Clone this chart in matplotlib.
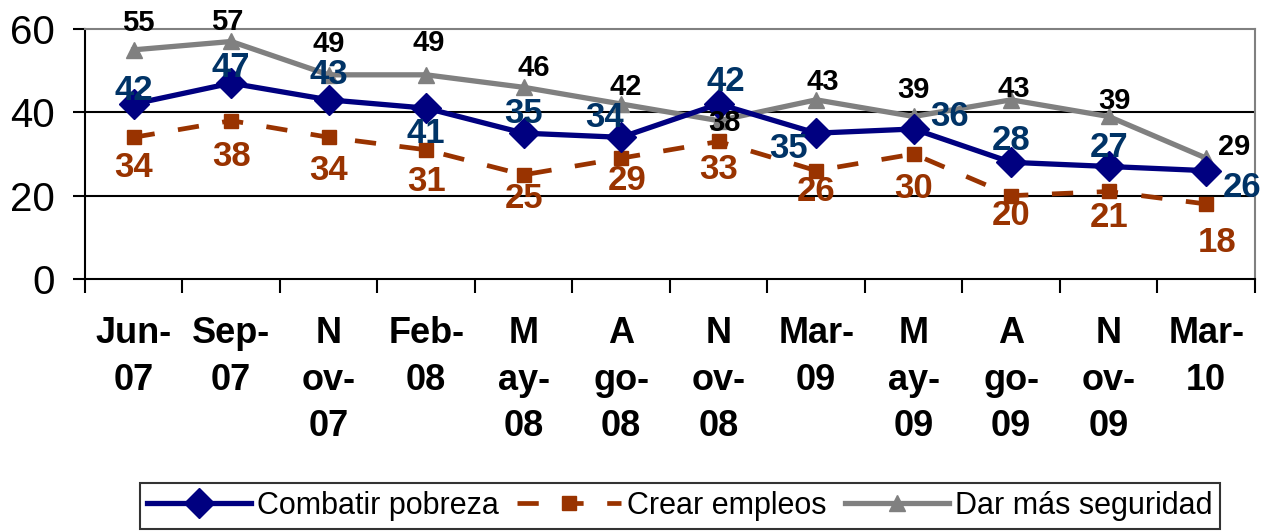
import matplotlib
matplotlib.use('Agg')
import matplotlib.pyplot as plt
import numpy as np

# datos
meses = ['Jun-\n07', 'Sep-\n07', 'N\nov-\n07', 'Feb-\n08', 'M\nay-\n08', 'A\ngo-\n08',
         'N\nov-\n08', 'Mar-\n09', 'M\nay-\n09', 'A\ngo-\n09', 'N\nov-\n09', 'Mar-\n10']
pobreza = [42, 47, 43, 41, 35, 34, 42, 35, 36, 28, 27, 26]
empleos = [34, 38, 34, 31, 25, 29, 33, 26, 30, 20, 21, 18]
seguridad = [55, 57, 49, 49, 46, 42, 38, 43, 39, 43, 39, 29]

# desplazamiento de etiquetas (puntos)
off_pob = [(0, 10), (0, 11), (0, 18), (0, -18), (0, 14), (-12, 14), (5, 16), (-20, -11),
           (26, 9), (0, 16), (0, 14), (26, -12)]
off_emp = [(0, -22), (0, -26), (0, -24), (0, -23), (0, -17), (4, -16), (0, -20), (0, -15),
           (0, -25), (0, -14), (0, -19), (8, -28)]
off_seg = [(3, 19), (-3, 14), (0, 22), (2, 23), (7, 14), (3, 12), (4, -2), (5, 13),
           (0, 19), (2, 8), (4, 11), (20, 8)]

plt.rcParams['font.family'] = ['Liberation Sans', 'DejaVu Sans']

fig = plt.figure(figsize=(12.72, 5.31), dpi=100)
ax = fig.add_axes([0.0668, 0.4746, 0.9198, 0.4708])

x = np.arange(len(meses))
l1, = ax.plot(x, pobreza, color='#000080', lw=3.8, marker='D', ms=15, zorder=4,
              label='Combatir pobreza')
l2, = ax.plot(x, empleos, color='#993300', lw=3.4, ls=(0, (4.5, 5)), marker='s', ms=10,
              zorder=3, label='Crear empleos')
l3, = ax.plot(x, seguridad, color='#808080', lw=3.8, marker='^', ms=12, zorder=2,
              label='Dar más seguridad')

for i in range(len(x)):
    ax.annotate(str(pobreza[i]), (x[i], pobreza[i]), xytext=off_pob[i], textcoords='offset points',
                ha='center', va='center', fontsize=25, fontweight='bold', color='#003366', zorder=6)
    ax.annotate(str(empleos[i]), (x[i], empleos[i]), xytext=off_emp[i], textcoords='offset points',
                ha='center', va='center', fontsize=25, fontweight='bold', color='#993300', zorder=6)
    ax.annotate(str(seguridad[i]), (x[i], seguridad[i]), xytext=off_seg[i], textcoords='offset points',
                ha='center', va='center', fontsize=21, fontweight='bold', color='black', zorder=6)

ax.set_xlim(-0.5, len(meses) - 0.5)
ax.set_ylim(0, 60)
ax.set_yticks([0, 20, 40, 60])
ax.tick_params(axis='y', labelsize=29, length=9, width=1.5, direction='out', pad=13)
for yv in [20, 40]:
    ax.axhline(yv, color='black', lw=1.5, zorder=1)

ax.set_xticks(np.arange(-0.5, len(meses), 1))
ax.set_xticklabels([])
ax.tick_params(axis='x', which='major', length=10, width=1.5, direction='out')
ax.set_xticks(x, minor=True)
ax.set_xticklabels(meses, minor=True, fontsize=26, fontweight='bold', linespacing=1.42,
                   va='top')
ax.tick_params(axis='x', which='minor', length=0, pad=27)

ax.spines['left'].set_linewidth(1.5)
ax.spines['bottom'].set_linewidth(1.5)
ax.spines['top'].set_color('#808080')
ax.spines['right'].set_color('#808080')
ax.spines['top'].set_linewidth(1.5)
ax.spines['right'].set_linewidth(1.5)

leg = fig.legend(handles=[l1, l2, l3], loc='center', bbox_to_anchor=(0.5346, 0.047),
                 ncol=3, frameon=True, fancybox=False, edgecolor='black',
                 handlelength=3.4, handletextpad=0.2, columnspacing=0.6, borderpad=0.25,
                 borderaxespad=0, prop={'size': 22})
leg.get_frame().set_linewidth(1.5)

fig.savefig('out.png', dpi=100)
